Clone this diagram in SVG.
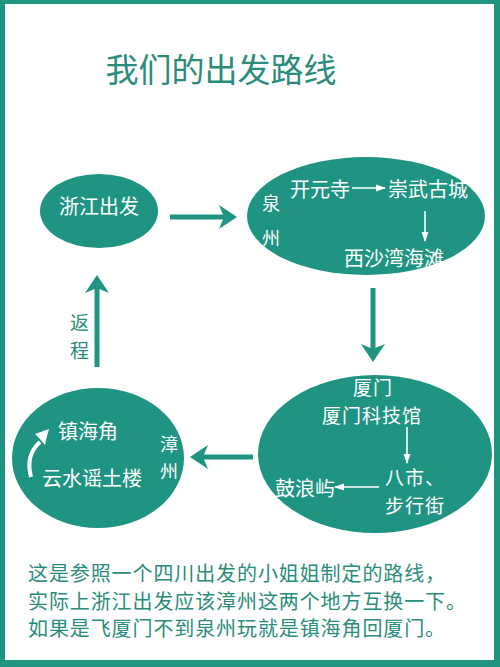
<svg xmlns="http://www.w3.org/2000/svg" width="500" height="667" viewBox="0 0 500 667">
<style>
.node{fill:#1f9482}
.t{font-family:"Noto Sans CJK SC","Noto Sans",sans-serif;fill:#fff;font-size:20px;dominant-baseline:central}
.s{font-size:19px;letter-spacing:1px}
.tm{text-anchor:middle}
.g{fill:#2a8c7a}
.note{letter-spacing:0.9px}
.conn{stroke:#1f9482;stroke-width:5;fill:none;marker-end:url(#big)}
.wl{stroke:#fff;stroke-width:1.6;fill:none;marker-end:url(#small)}
</style>
<defs>
<marker id="big" markerUnits="userSpaceOnUse" viewBox="-1 -13 21 26" markerWidth="21" markerHeight="26" refX="8" refY="0" orient="auto">
<path d="M0,-12 L18,0 L0,12 L5,0 Z" fill="#1f9482"/>
</marker>
<marker id="small" markerUnits="userSpaceOnUse" viewBox="0 -4 10 8" markerWidth="10" markerHeight="8" refX="9" refY="0" orient="auto">
<path d="M0,-3.5 L10,0 L0,3.5 Z" fill="#fff"/>
</marker>
</defs>
<rect x="0" y="0" width="500" height="667" fill="#1f9480"/>
<rect x="5" y="4" width="489" height="656" fill="#fff"/>
<text x="221" y="68" class="t tm g" style="font-size:33px">我们的出发路线</text>

<g id="connectors">
<line class="conn" x1="170" y1="217" x2="227" y2="217"/>
<line class="conn" x1="373" y1="288" x2="373" y2="352"/>
<line class="conn" x1="253" y1="457" x2="200" y2="457"/>
<line class="conn" x1="97" y1="367" x2="97" y2="285"/>
<text x="80" y="321" class="t tm g s">返</text>
<text x="80" y="349" class="t tm g s">程</text>
</g>

<g id="zhejiang">
<ellipse class="node" cx="99" cy="211" rx="59" ry="37"/>
<text x="99" y="205" class="t tm">浙江出发</text>
</g>

<g id="quanzhou">
<ellipse class="node" cx="366" cy="216" rx="119" ry="59"/>
<text x="271" y="202" class="t tm" style="font-size:18px">泉</text>
<text x="271" y="237" class="t tm" style="font-size:18px">州</text>
<text x="320" y="188" class="t tm">开元寺</text>
<line class="wl" x1="352" y1="188" x2="385" y2="188"/>
<text x="428" y="188" class="t tm">崇武古城</text>
<line class="wl" x1="425" y1="211" x2="425" y2="241"/>
<text x="394" y="257" class="t tm">西沙湾海滩</text>
</g>

<g id="xiamen">
<ellipse class="node" cx="375" cy="454" rx="117" ry="79"/>
<text x="373" y="386" class="t tm s">厦门</text>
<text x="372" y="414" class="t tm s">厦门科技馆</text>
<line class="wl" x1="407" y1="427" x2="407" y2="463"/>
<text x="385" y="476" class="t s">八市、</text>
<text x="385" y="504" class="t s">步行街</text>
<line class="wl" x1="379" y1="487" x2="335" y2="487"/>
<text x="305" y="487" class="t tm">鼓浪屿</text>
</g>

<g id="zhangzhou">
<ellipse class="node" cx="98" cy="458" rx="86" ry="70"/>
<text x="88" y="430" class="t tm">镇海角</text>
<text x="92" y="477" class="t tm">云水谣土楼</text>
<text x="169" y="443" class="t tm" style="font-size:18px">漳</text>
<text x="169" y="470" class="t tm" style="font-size:18px">州</text>
<path d="M31,477 C27,462 31,450 40,442" stroke="#fff" stroke-width="4" fill="none"/>
<path d="M49,429 L35,434 L39,438 L45,445 L46,440 Z" fill="#fff"/>
</g>

<text x="28" y="572" class="t g note">这是参照一个四川出发的小姐姐制定的路线，</text>
<text x="28" y="600" class="t g note">实际上浙江出发应该漳州这两个地方互换一下。</text>
<text x="28" y="627" class="t g note">如果是飞厦门不到泉州玩就是镇海角回厦门。</text>
</svg>
